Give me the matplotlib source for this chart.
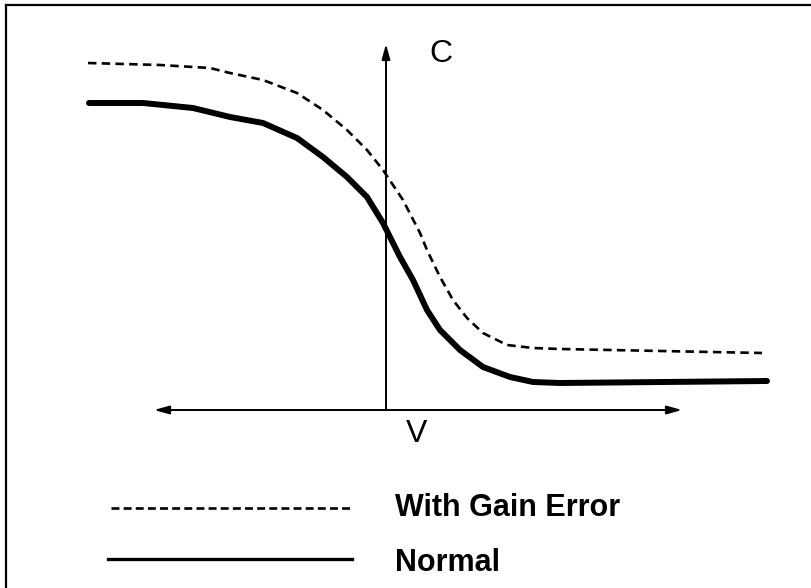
import matplotlib
matplotlib.use("Agg")
import matplotlib.pyplot as plt
from matplotlib.lines import Line2D

# Data (V, C)
normal_v = [-2.97, -2.43, -1.93, -1.56, -1.23, -0.89, -0.63, -0.39, -0.19, -0.03,
            0.14, 0.27, 0.41, 0.54, 0.74, 0.97, 1.24, 1.47, 1.74, 3.81]
normal_c = [3.07, 3.07, 3.02, 2.93, 2.87, 2.72, 2.53, 2.33, 2.13, 1.87,
            1.53, 1.30, 1.00, 0.80, 0.60, 0.43, 0.33, 0.28, 0.27, 0.29]

gain_v = [-2.98, -2.26, -1.76, -1.56, -1.23, -0.89, -0.63, -0.39, -0.19, -0.03,
          0.17, 0.34, 0.41, 0.54, 0.67, 0.81, 0.97, 1.21, 1.47, 1.74, 3.76]
gain_c = [3.47, 3.45, 3.42, 3.37, 3.30, 3.17, 3.00, 2.80, 2.60, 2.40,
          2.10, 1.77, 1.60, 1.33, 1.10, 0.92, 0.77, 0.65, 0.62, 0.61, 0.57]

labels = ["With Gain Error", "Normal"]

fig = plt.figure(figsize=(8.12, 5.88), dpi=100)
ax = fig.add_axes([0, 0, 1, 1])
ax.set_xlim(-3.86, 4.26)
ax.set_ylim(-1.78, 4.10)
ax.axis("off")

# frame around the figure (top and left visible)
fig.add_artist(Line2D([6/812, 6/812], [0, 1 - 5/588], transform=fig.transFigure,
                      color="black", lw=1.6))
fig.add_artist(Line2D([6/812, 1], [1 - 5/588, 1 - 5/588], transform=fig.transFigure,
                      color="black", lw=1.6))

# axes arrows
ax.annotate("", xy=(0, 3.66), xytext=(0, 0),
            arrowprops=dict(arrowstyle="-|>,head_length=0.9,head_width=0.25",
                            color="black", lw=1.4, shrinkA=0, shrinkB=0))
ax.annotate("", xy=(-2.32, 0), xytext=(2.96, 0),
            arrowprops=dict(arrowstyle="<|-|>,head_length=0.9,head_width=0.25",
                            color="black", lw=1.4, shrinkA=0, shrinkB=0))
ax.text(0.55, 3.56, "C", fontsize=23, family=["Liberation Sans", "DejaVu Sans"],
        ha="center", va="center")
ax.text(0.31, -0.24, "V", fontsize=23, family=["Liberation Sans", "DejaVu Sans"],
        ha="center", va="center")

# curves
ax.plot(gain_v, gain_c, color="black", lw=1.9, linestyle=(0, (3.2, 2.0)),
        solid_joinstyle="round")
ax.plot(normal_v, normal_c, color="black", lw=4.3, solid_joinstyle="round",
        solid_capstyle="round")

# legend (manual)
ax.plot([-2.75, -0.34], [-0.98, -0.98], color="black", lw=1.9,
        linestyle=(0, (3.0, 1.6)))
ax.plot([-2.78, -0.34], [-1.49, -1.49], color="black", lw=2.4)
ax.text(0.09, -0.98, labels[0], fontsize=22, fontweight="bold",
        family=["Liberation Sans", "DejaVu Sans"], ha="left", va="center")
ax.text(0.09, -1.53, labels[1], fontsize=22, fontweight="bold",
        family=["Liberation Sans", "DejaVu Sans"], ha="left", va="center")

fig.savefig("out.png", dpi=100)
